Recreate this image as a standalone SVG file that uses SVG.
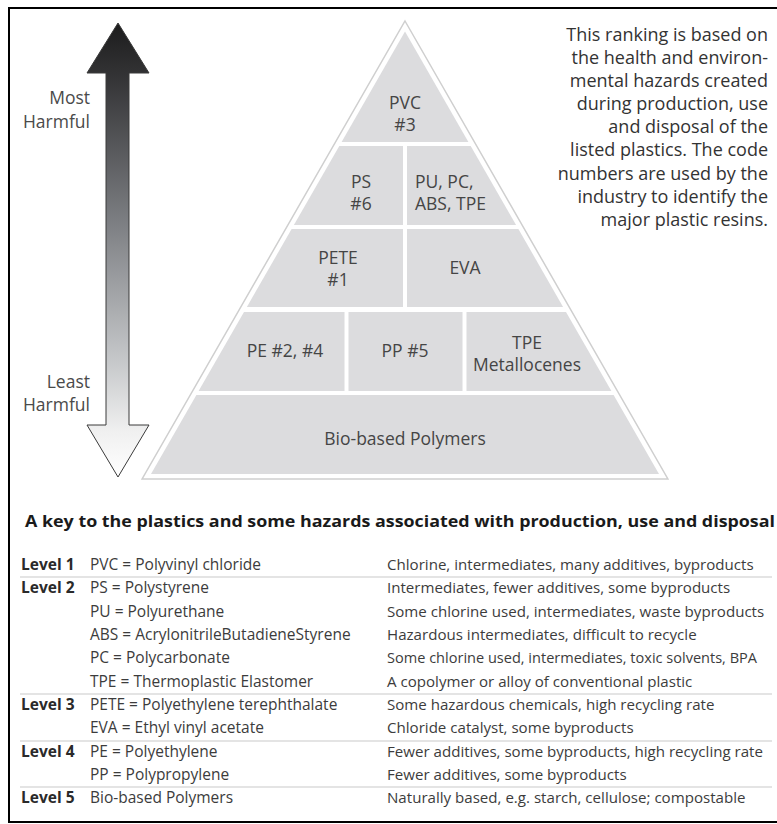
<svg xmlns="http://www.w3.org/2000/svg" width="777" height="824" viewBox="0 0 777 824">
<defs>
  <linearGradient id="arrowGrad" x1="0" y1="23" x2="0" y2="477" gradientUnits="userSpaceOnUse">
    <stop offset="0" stop-color="#1c1c1c"/>
    <stop offset="0.12" stop-color="#343436"/>
    <stop offset="0.45" stop-color="#7f8185"/>
    <stop offset="0.75" stop-color="#c7c9cb"/>
    <stop offset="0.9" stop-color="#f0f0f0"/>
    <stop offset="1" stop-color="#ffffff"/>
  </linearGradient>
  <style>
    text{font-family:"Open Sans","Noto Sans",sans-serif}
    .tile{fill:#dcdcde}
    .lbl{font-size:17.5px;fill:#454545;text-anchor:middle}
    .side{font-size:17.5px;fill:#4a4a4a;text-anchor:end}
    .para{font-size:18px;fill:#333333;text-anchor:end}
    .title{font-size:16px;font-weight:700;fill:#1a1a1a}
    .lvl{font-size:15.5px;font-weight:700;fill:#2a2a2a}
    .cell{font-size:15.5px;fill:#3c3c3c}
    .desc{font-size:15.1px;fill:#3c3c3c}
    .sep{stroke:#c9c9c9;stroke-width:1.2}
  </style>
</defs>
<rect x="0" y="0" width="777" height="824" fill="#ffffff"/>
<path d="M777,8 H9 V822 H777" fill="none" stroke="#000000" stroke-width="2"/>

<g id="harm-arrow">
  <path d="M118,23 L149,73 L129,73 L129,425 L149,425 L118,477 L87,425 L106,425 L106,73 L87,73 Z" fill="url(#arrowGrad)" stroke="#3a3a3a" stroke-width="1"/>
  <text class="side" x="90" y="104">Most</text>
  <text class="side" x="90" y="128">Harmful</text>
  <text class="side" x="90" y="388">Least</text>
  <text class="side" x="90" y="411">Harmful</text>
</g>

<g id="pyramid-outline">
  <polygon points="405,21 667.9,479 142.1,479" fill="none" stroke="#cfcfcf" stroke-width="1.5"/>
</g>

<g id="tile-pvc">
  <polygon class="tile" points="405,31.5 468.4,142 341.6,142"/>
  <text class="lbl" x="405" y="109">PVC</text>
  <text class="lbl" x="405" y="131">#3</text>
</g>
<g id="tile-ps">
  <polygon class="tile" points="339.3,146 403,146 403,225 293.9,225"/>
  <text class="lbl" x="361" y="188">PS</text>
  <text class="lbl" x="361" y="210">#6</text>
</g>
<g id="tile-pu">
  <polygon class="tile" points="407,146 470.7,146 516.1,225 407,225"/>
  <text class="lbl" x="415" y="188" style="text-anchor:start">PU, PC,</text>
  <text class="lbl" x="415" y="210" style="text-anchor:start">ABS, TPE</text>
</g>
<g id="tile-pete">
  <polygon class="tile" points="291.6,229 403,229 403,307 246.9,307"/>
  <text class="lbl" x="338" y="264">PETE</text>
  <text class="lbl" x="338" y="286">#1</text>
</g>
<g id="tile-eva">
  <polygon class="tile" points="407,229 518.4,229 563.1,307 407,307"/>
  <text class="lbl" x="465" y="274">EVA</text>
</g>
<g id="tile-pe">
  <polygon class="tile" points="244,312 344.5,312 344.5,391 198.6,391"/>
  <text class="lbl" x="285" y="357">PE #2, #4</text>
</g>
<g id="tile-pp">
  <polygon class="tile" points="348.5,312 462.5,312 462.5,391 348.5,391"/>
  <text class="lbl" x="405" y="357">PP #5</text>
</g>
<g id="tile-tpe">
  <polygon class="tile" points="466.5,312 566,312 611.4,391 466.5,391"/>
  <text class="lbl" x="527" y="349">TPE</text>
  <text class="lbl" x="527" y="371">Metallocenes</text>
</g>
<g id="tile-bio">
  <polygon class="tile" points="196.4,395 613.6,395 659,474 151,474"/>
  <text class="lbl" x="405" y="445">Bio-based Polymers</text>
</g>

<g id="note">
  <text class="para" x="768" y="41">This ranking is based on</text>
  <text class="para" x="768" y="64">the health and environ-</text>
  <text class="para" x="768" y="87">mental hazards created</text>
  <text class="para" x="768" y="110">during production, use</text>
  <text class="para" x="768" y="133">and disposal of the</text>
  <text class="para" x="768" y="156">listed plastics. The code</text>
  <text class="para" x="768" y="180">numbers are used by the</text>
  <text class="para" x="768" y="203">industry to identify the</text>
  <text class="para" x="768" y="226">major plastic resins.</text>
</g>

<g id="key-table">
  <text class="title" x="25" y="527" textLength="750" lengthAdjust="spacingAndGlyphs">A key to the plastics and some hazards associated with production, use and disposal</text>
  <g class="sep">
    <line x1="20" y1="577" x2="772" y2="577"/>
    <line x1="20" y1="694" x2="772" y2="694"/>
    <line x1="20" y1="741" x2="772" y2="741"/>
    <line x1="20" y1="787" x2="772" y2="787"/>
  </g>
  <text class="lvl" x="21" y="570">Level 1</text>
  <text class="lvl" x="21" y="593">Level 2</text>
  <text class="lvl" x="21" y="710">Level 3</text>
  <text class="lvl" x="21" y="757">Level 4</text>
  <text class="lvl" x="21" y="803">Level 5</text>

  <text class="cell" x="90" y="570">PVC = Polyvinyl chloride</text>
  <text class="cell" x="90" y="593">PS = Polystyrene</text>
  <text class="cell" x="90" y="617">PU = Polyurethane</text>
  <text class="cell" x="90" y="640">ABS = AcrylonitrileButadieneStyrene</text>
  <text class="cell" x="90" y="663">PC = Polycarbonate</text>
  <text class="cell" x="90" y="687">TPE = Thermoplastic Elastomer</text>
  <text class="cell" x="90" y="710">PETE = Polyethylene terephthalate</text>
  <text class="cell" x="90" y="733">EVA = Ethyl vinyl acetate</text>
  <text class="cell" x="90" y="757">PE = Polyethylene</text>
  <text class="cell" x="90" y="780">PP = Polypropylene</text>
  <text class="cell" x="90" y="803">Bio-based Polymers</text>

  <text class="desc" x="387" y="570">Chlorine, intermediates, many additives, byproducts</text>
  <text class="desc" x="387" y="593">Intermediates, fewer additives, some byproducts</text>
  <text class="desc" x="387" y="617">Some chlorine used, intermediates, waste byproducts</text>
  <text class="desc" x="387" y="640">Hazardous intermediates, difficult to recycle</text>
  <text class="desc" x="387" y="663" textLength="370" lengthAdjust="spacingAndGlyphs">Some chlorine used, intermediates, toxic solvents, BPA</text>
  <text class="desc" x="387" y="687">A copolymer or alloy of conventional plastic</text>
  <text class="desc" x="387" y="710">Some hazardous chemicals, high recycling rate</text>
  <text class="desc" x="387" y="733">Chloride catalyst, some byproducts</text>
  <text class="desc" x="387" y="757">Fewer additives, some byproducts, high recycling rate</text>
  <text class="desc" x="387" y="780">Fewer additives, some byproducts</text>
  <text class="desc" x="387" y="803">Naturally based, e.g. starch, cellulose; compostable</text>
</g>
</svg>
